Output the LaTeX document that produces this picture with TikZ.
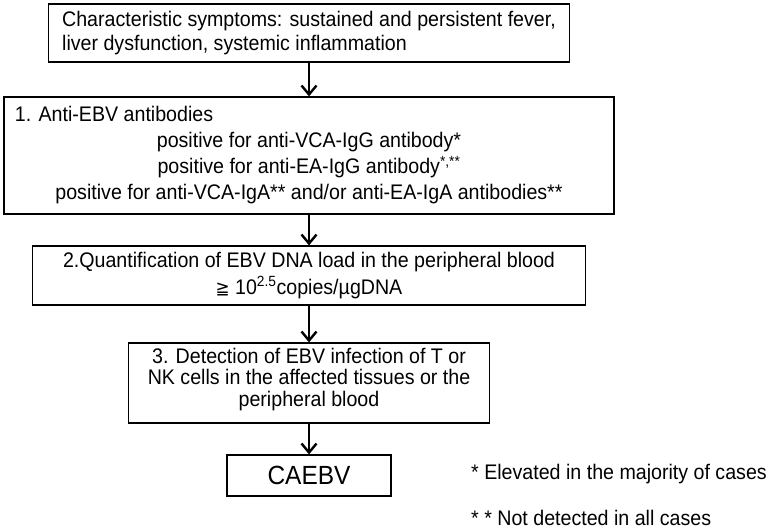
\documentclass[tikz,border=0pt]{standalone}
\usepackage{fontspec}
\setmainfont{Liberation Sans}[FakeStretch=0.93]
\newfontfamily\symfont{DejaVu Sans}[FakeStretch=0.93]
\usetikzlibrary{arrows.meta}
\begin{document}
\begin{tikzpicture}[x=1pt,y=-1pt,
  box/.style={draw=black, line width=1.2pt, inner sep=0pt, align=center,
    font=\fontsize{21.1}{23.5}\selectfont},
  flow/.style={-{Straight Barb[length=9pt,width=15pt,line width=2.4pt]}, line width=2.5pt},
  note/.style={anchor=west, inner sep=0pt, font=\fontsize{21.1}{23.5}\selectfont}]
\useasboundingbox (0,0) rectangle (772,529);

\node[box, align=left, minimum width=521pt, minimum height=58pt] (sym) at (309,33)
  {Characteristic symptoms: sustained and persistent fever,\\liver dysfunction, systemic inflammation};

\node[box, minimum width=610pt, minimum height=117pt,
  font=\fontsize{21.1}{26}\selectfont] (ab) at (309,155.5)
  {\makebox[588pt][l]{1. Anti-EBV antibodies}\\
   positive for anti-VCA-IgG antibody*\\
   positive for anti-EA-IgG antibody\textsuperscript{*,**}\\
   positive for anti-VCA-IgA** and/or anti-EA-IgA antibodies**};

\node[box, minimum width=553pt, minimum height=59pt,
  font=\fontsize{21.1}{27}\selectfont] (dna) at (309,275.5)
  {2.Quantification of EBV DNA load in the peripheral blood\\
   {\symfont\fontsize{18}{20}\selectfont ≧} 10\textsuperscript{2.5}copies/µgDNA};

\node[box, minimum width=361pt, minimum height=80pt,
  font=\fontsize{21.1}{21.5}\selectfont] (det) at (309,383)
  {3. Detection of EBV infection of T or\\
   NK cells in the affected tissues or the\\
   peripheral blood\rule[-12pt]{0pt}{0pt}};

\node[box, minimum width=164pt, minimum height=41pt,
  font=\fontsize{26.3}{28}\selectfont] (cae) at (309,475.5) {CAEBV};

\node[note] (n1) at (471,474) {* Elevated in the majority of cases};
\node[note] (n2) at (471,518) {* * Not detected in all cases};

\draw[flow] (sym.south) -- (ab.north);
\draw[flow] (ab.south) -- (dna.north);
\draw[flow] (dna.south) -- (det.north);
\draw[flow] (det.south) -- (cae.north);
\end{tikzpicture}
\end{document}
